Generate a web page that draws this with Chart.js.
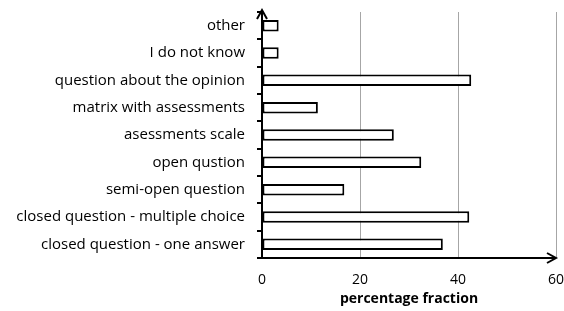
<!DOCTYPE html>
<html>
<head>
<meta charset="utf-8">
<script src="https://cdn.jsdelivr.net/npm/chart.js"></script>
<style>
  body { margin: 0; background: #fff; }
  #wrap { width: 564px; height: 311px; }
</style>
</head>
<body>
<div id="wrap"><canvas id="chart" width="564" height="311"></canvas></div>
<script>
// question types, top to bottom as in the figure
const categories = [
    'other',
    'I do not know',
    'question about the opinion',
    'matrix with assessments',
    'asessments scale',
    'open qustion',
    'semi-open question',
    'closed question - multiple choice',
    'closed question - one answer'
];
const fractions = [3.4, 3.4, 42.7, 11.4, 26.9, 32.5, 16.8, 42.3, 36.9];
const xTicks = [0, 20, 40, 60];
const xTitle = 'percentage fraction';

const FONT = '"Open Sans", Lato, sans-serif';

// arrow heads at the ends of both axes
const axisArrows = {
    id: 'axisArrows',
    afterDraw(chart) {
        const c = chart.ctx;
        const a = chart.chartArea;
        c.save();
        c.strokeStyle = '#000';
        c.lineWidth = 2;
        c.beginPath();
        c.moveTo(a.left, a.bottom);
        c.lineTo(a.right - 1, a.bottom);
        c.stroke();
        c.beginPath();
        c.moveTo(a.right - 9, a.bottom - 5);
        c.lineTo(a.right, a.bottom);
        c.lineTo(a.right - 9, a.bottom + 5);
        c.stroke();
        c.beginPath();
        c.moveTo(a.left, a.top + 4);
        c.lineTo(a.left, a.top - 2);
        c.stroke();
        c.beginPath();
        c.moveTo(a.left - 5, a.top + 7);
        c.lineTo(a.left, a.top - 2);
        c.lineTo(a.left + 5, a.top + 7);
        c.stroke();
        c.restore();
    }
};

new Chart(document.getElementById('chart'), {
    type: 'bar',
    data: {
        labels: categories,
        datasets: [{
            data: fractions,
            backgroundColor: '#ffffff',
            borderColor: '#000000',
            borderWidth: 2,
            borderSkipped: false,
            barPercentage: 0.42,
            categoryPercentage: 1
        }]
    },
    options: {
        indexAxis: 'y',
        responsive: false,
        animation: false,
        layout: { padding: { top: 12, right: 8, left: 0, bottom: 0 } },
        plugins: {
            legend: { display: false },
            tooltip: { enabled: false }
        },
        scales: {
            x: {
                min: 0,
                max: 60,
                afterBuildTicks(scale) {
                    scale.ticks = xTicks.map(v => ({ value: v }));
                },
                afterFit(scale) {
                    scale.height = 53;
                    scale.paddingRight = 0;
                    scale.paddingLeft = 0;
                },
                grid: {
                    color: '#a6a6a6',
                    lineWidth: 1,
                    drawTicks: false
                },
                border: { display: false },
                ticks: {
                    color: '#000',
                    padding: 14,
                    font: { family: FONT, size: 14 }
                },
                title: {
                    display: true,
                    text: xTitle,
                    color: '#000',
                    padding: { top: 0, bottom: 4 },
                    font: { family: FONT, size: 14, weight: 'bold' }
                }
            },
            y: {
                afterFit(scale) {
                    scale.width = 262;
                    scale.paddingTop = 0;
                    scale.paddingBottom = 0;
                },
                grid: {
                    offset: true,
                    drawOnChartArea: false,
                    color: '#000',
                    lineWidth: 2,
                    tickLength: 5
                },
                border: { display: true, color: '#000', width: 2 },
                ticks: {
                    color: '#000',
                    padding: 12,
                    font: { family: FONT, size: 15 }
                }
            }
        }
    },
    plugins: [axisArrows]
});
</script>
</body>
</html>
